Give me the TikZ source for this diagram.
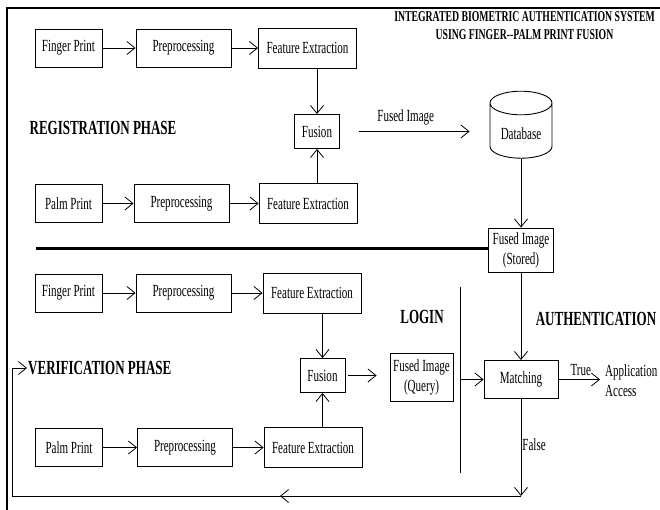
\documentclass[tikz,border=0pt]{standalone}
\usepackage{fontspec}
\setmainfont{Liberation Serif}[FakeStretch=0.65]
\usepackage{tikz}
\usetikzlibrary{shapes.geometric, arrows.meta, positioning}
\newcommand{\boxfont}{\fontsize{17}{20}\selectfont}
\newcommand{\phasefont}{\fontsize{20}{24}\selectfont\bfseries}
\newcommand{\headfont}{\fontsize{15}{18}\selectfont\bfseries}
\tikzstyle{stepbox} = [rectangle, minimum height=38pt, 
text centered, draw=black, line width=0.9pt, fill=white]
\tikzstyle{inbox} = [stepbox, minimum width=67pt]
\tikzstyle{prebox} = [stepbox, minimum width=95pt]
\tikzstyle{featbox} = [stepbox, minimum width=98pt, 
minimum height=40pt]
\tikzstyle{fusebox} = [stepbox, minimum width=45pt, 
minimum height=34pt]
\tikzstyle{infobox} = [stepbox, align=center, inner sep=3pt, 
minimum width=65pt, minimum height=44pt]
\tikzstyle{store} = [cylinder, shape border rotate=90, 
aspect=0.5, draw=black, line width=0.9pt, minimum width=62pt, 
minimum height=67pt]
\tikzstyle{phase} = [font=\phasefont]
\tikzstyle{arrow} = [line width=0.8pt, 
-{Straight Barb[length=8pt,width=13pt]}]
\tikzstyle{sepline} = [line width=3pt]

\begin{document}
\begin{tikzpicture}[x=1pt, y=1pt, node distance=120pt,
    every node/.style={font=\boxfont}]
\useasboundingbox (0,0) rectangle (660,-510);
\draw [line width=1.5pt] (7,-510) |- (662,-8);

% registration
\node (fp1) [inbox] at (68.5,-48) {Finger Print};
\node (pre1) [prebox, right of=fp1, xshift=-5pt] {Preprocessing};
\node (fe1) [featbox, right of=pre1, xshift=4pt] 
{Feature Extraction};
\node (fus1) [fusebox, below of=fe1, xshift=9.5pt, yshift=36.5pt] 
{Fusion};
\node (fe2) [featbox, below of=fus1, xshift=-9pt, yshift=48pt] 
{Feature Extraction};
\node (pre2) [prebox, left of=fe2, xshift=-6.5pt] {Preprocessing};
\node (pp1) [inbox, left of=pre2, xshift=7pt] {Palm Print};
\node (reg) [phase] at (103,-128) {REGISTRATION PHASE};
\node (db) [store, right of=fus1, xshift=84pt, yshift=-2pt] 
{Database};
\node (stored) [infobox, below of=db, yshift=3.5pt] 
{Fused Image\\(Stored)};
\node (title) [font=\headfont, align=center] at (524.5,-26) 
{INTEGRATED BIOMETRIC AUTHENTICATION SYSTEM\\
USING FINGER-{}-PALM PRINT FUSION};
\coordinate (sepl) at (36,-249);

% verification
\node (fp2) [inbox, below of=pp1, yshift=30.5pt] {Finger Print};
\node (pre3) [prebox, right of=fp2, xshift=-5pt] {Preprocessing};
\node (fe3) [featbox, right of=pre3, xshift=8.5pt] 
{Feature Extraction};
\node (fus2) [fusebox, below of=fe3, xshift=10.5pt, yshift=37.5pt] 
{Fusion};
\node (fe4) [featbox, below of=fus2, xshift=-9.5pt, yshift=48pt] 
{Feature Extraction};
\node (pre4) [prebox, left of=fe4, xshift=-8pt] {Preprocessing};
\node (pp2) [inbox, left of=pre4, xshift=4pt] {Palm Print};
\node (verif) [phase, anchor=west, inner sep=1pt] at (27,-368) 
{VERIFICATION PHASE};
\node (query) [infobox, minimum width=63pt, minimum height=48pt, 
right of=fus2, xshift=-21pt, yshift=-2pt] {Fused Image\\(Query)};
\node (match) [stepbox, minimum width=74pt, right of=query, 
xshift=-20.5pt, yshift=-2pt] {Matching};
\node (login) [phase] at (422,-317) {LOGIN};
\node (auth) [phase] at (596,-319) {AUTHENTICATION};
\node (appacc) [anchor=west, align=left, inner sep=2pt] 
at (603,-381) {Application\\Access};
\coordinate (divt) at (460,-287);
\coordinate (divb) at (460,-473);
\coordinate (fbot) at (521,-496);
\coordinate (fleft) at (12,-496);

\draw [arrow] (fp1) -- (pre1);
\draw [arrow] (pre1) -- (fe1);
\draw [arrow] (fus1 |- fe1.south) -- (fus1);
\draw [arrow] (fus1 |- fe2.north) -- (fus1);
\draw [arrow] (pp1) -- (pre2);
\draw [arrow] (pre2) -- (fe2);
\draw [arrow, shorten <=19pt, shorten >=20pt] (fus1.east) -- 
node[above, xshift=-9pt, yshift=3pt] {Fused Image} 
(fus1.east -| db.west);
\draw [arrow] (db) -- (stored);
\draw [sepline] (sepl) -- (sepl -| stored.west);
\draw [arrow] (stored) -- (match);

\draw [arrow] (fp2) -- (pre3);
\draw [arrow] (pre3) -- (fe3);
\draw [arrow] (fus2 |- fe3.south) -- (fus2);
\draw [arrow] (fus2 |- fe4.north) -- (fus2);
\draw [arrow] (pp2) -- (pre4);
\draw [arrow] (pre4) -- (fe4);
\draw [arrow, shorten <=3pt, shorten >=13pt] (fus2.east) -- 
(fus2.east -| query.west);
\draw [line width=0.8pt] (divt) -- (divb);
\draw [arrow] (divt |- match) -- (match.west);
\draw [arrow, shorten >=3pt] (match.east) -- node[above] {True} 
(match.east -| appacc.west);
\draw [arrow] (match) -- node[right, pos=0.47, inner sep=1pt] 
{False} (fbot);
\draw [arrow] (fbot) -- (fleft) |- (verif.west);
\draw [arrow] (fbot) -- ++(-241,0);

\end{tikzpicture}
\end{document}
